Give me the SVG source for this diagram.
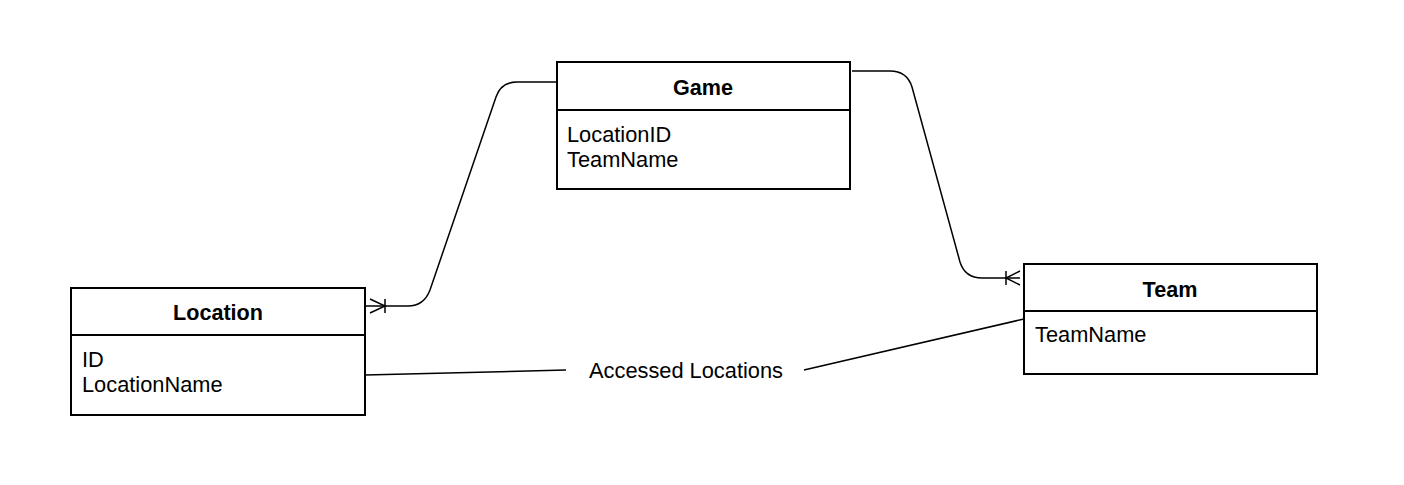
<svg xmlns="http://www.w3.org/2000/svg" width="1404" height="485" viewBox="0 0 1404 485">
<style>
.box{fill:#fff;stroke:#000;stroke-width:2}
.div{stroke:#000;stroke-width:2}
.h{font-family:"Liberation Sans",Arial,sans-serif;font-size:21.6px;font-weight:bold;text-anchor:middle;fill:#000}
.t{font-family:"Liberation Sans",Arial,sans-serif;font-size:21.8px;fill:#000}
.c{fill:none;stroke:#000;stroke-width:1.5}
</style>
<rect width="1404" height="485" fill="#fff"/>
<g id="connectors">
<path class="c" d="M365,306 H408 Q424,306 430,290 L496,97 Q501,82 517,82 H557"/>
<path class="c" d="M370,299 L385,306 L370,313 M385,299 V313"/>
<path class="c" d="M852,71 H890 Q907,71 912,87 L960,262 Q965,278 982,278 H1020"/>
<path class="c" d="M1020,271 L1006,278 L1020,285 M1006,271 V285"/>
<path class="c" d="M365,375 L566,370"/>
<path class="c" d="M804,370 L1024,319"/>
<text class="t" x="686" y="378" text-anchor="middle">Accessed Locations</text>
</g>
<g id="game">
<rect class="box" x="557" y="62" width="293" height="127"/>
<line class="div" x1="557" y1="110" x2="850" y2="110"/>
<text class="h" x="703" y="95">Game</text>
<text class="t" x="567" y="142">LocationID</text>
<text class="t" x="567" y="167">TeamName</text>
</g>
<g id="location">
<rect class="box" x="71" y="288" width="294" height="127"/>
<line class="div" x1="71" y1="335" x2="365" y2="335"/>
<text class="h" x="218" y="320">Location</text>
<text class="t" x="82" y="367">ID</text>
<text class="t" x="82" y="392">LocationName</text>
</g>
<g id="team">
<rect class="box" x="1024" y="264" width="293" height="110"/>
<line class="div" x1="1024" y1="311" x2="1317" y2="311"/>
<text class="h" x="1170" y="297">Team</text>
<text class="t" x="1035" y="342">TeamName</text>
</g>
</svg>
